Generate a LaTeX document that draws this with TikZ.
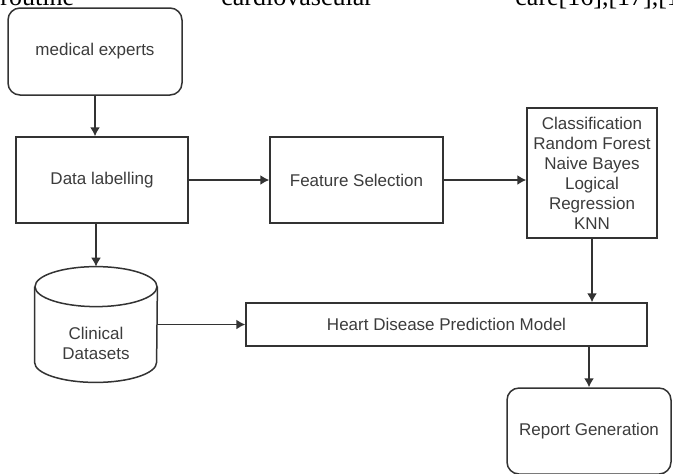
\documentclass[tikz,border=0pt]{standalone}
\usepackage{fontspec}
\setmainfont{Liberation Sans}
\newfontfamily\paperfont{Liberation Serif}
\usetikzlibrary{arrows.meta}
\definecolor{ink}{HTML}{333333}
\definecolor{txtgray}{HTML}{3C3C3C}
\tikzset{
    box/.style={
        draw=ink, line width=0.75pt, fill=white, text=txtgray,
        font=\fontsize{8.5}{10}\selectfont, align=center, inner sep=0pt
    },
    rbox/.style={box, rounded corners=6pt},
    flow/.style={->, draw=ink, line width=0.75pt},
    runtext/.style={anchor=base west, inner sep=0pt, font=\paperfont\fontsize{13}{15}\selectfont}
}
\begin{document}
\begin{tikzpicture}[x=0.5pt,y=-0.5pt,>={Latex[length=4.5pt,width=5pt]}]
\useasboundingbox (0,0) rectangle (673,473);
\clip (0,0) rectangle (673,473);
% line of the page above the figure
\node[runtext] (runA) at (0,5) {routine};
\node[runtext] (runB) at (221,5) {cardiovascular};
\node[runtext] (runC) at (515,5) {care[16],[17],[18]};
% boxes
\node[rbox, minimum width=87pt, minimum height=43.5pt] (experts) at (95,51.5) {medical experts};
\node[box, minimum width=86pt, minimum height=43pt] (label) at (102,180) {Data labelling};
\node[box, minimum width=86.5pt, minimum height=43pt] (feat) at (356.5,180) {Feature Selection};
\node[box, minimum width=65pt, minimum height=65pt] (clf) at (592,173) {Classification\\Random Forest\\Naive Bayes\\Logical\\Regression\\KNN};
\node[box, minimum width=200.5pt, minimum height=21.5pt] (model) at (446.5,324.5) {Heart Disease Prediction Model};
\node[rbox, minimum width=82pt, minimum height=43pt] (report) at (589,431) {Report Generation};
% database drum
\node[minimum width=61pt, minimum height=57.5pt, inner sep=0pt] (db) at (96,324.5) {};
\draw[draw=ink, line width=0.75pt] ([yshift=-10pt]db.north) ellipse [x radius=30.5pt, y radius=10pt];
\draw[draw=ink, line width=0.75pt] ([yshift=-10pt]db.north west) -- ([yshift=10pt]db.south west)
    arc[start angle=180, end angle=360, x radius=30.5pt, y radius=10pt] -- ([yshift=-10pt]db.north east);
\node[text=txtgray, font=\fontsize{8.5}{10}\selectfont, align=center, inner sep=0pt] (dbtxt) at (96,343) {Clinical\\Datasets};
% connectors
\draw[flow] (experts.south) -- (experts.south |- label.north);
\draw[flow] (label.east) -- (feat.west);
\draw[flow] (feat.east) -- (feat.east -| clf.west);
\draw[flow] (db.north |- label.south) -- (db.north);
\draw[flow] (clf.south) -- (clf.south |- model.north);
\draw[flow] (db.east) -- (model.west);
\draw[flow] (report.north |- model.south) -- (report.north);
\end{tikzpicture}
\end{document}
